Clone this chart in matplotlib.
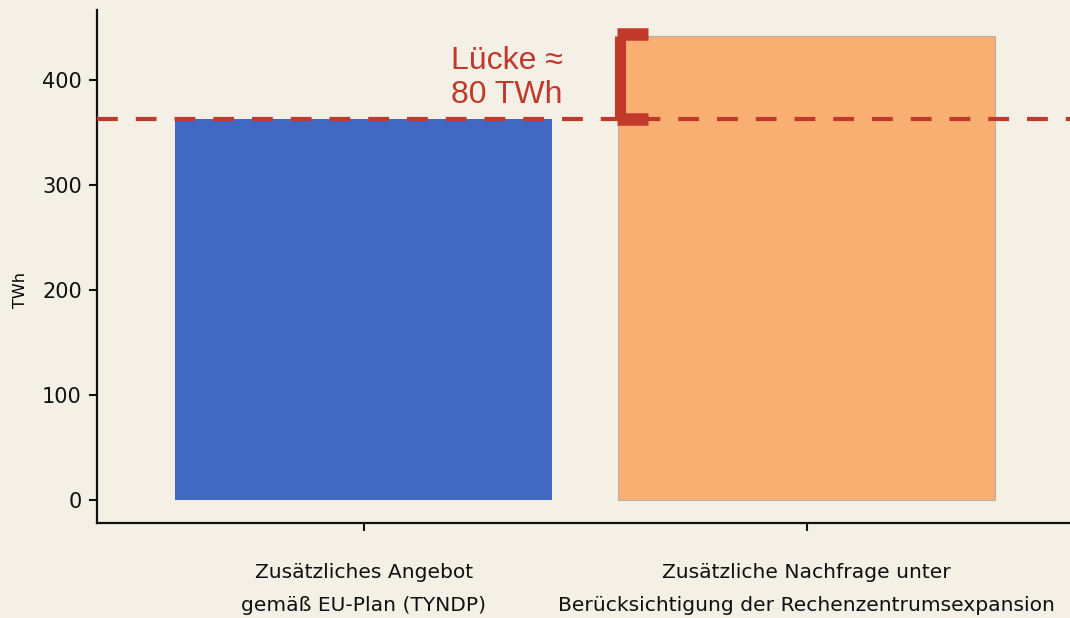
import matplotlib.pyplot as plt

# data
categories = ["Zusätzliches Angebot\ngemäß EU-Plan (TYNDP)",
              "Zusätzliche Nachfrage unter\nBerücksichtigung der Rechenzentrumsexpansion"]
values = [363, 442]
bar_colors = ["#4169c4", "#f9ae72"]
gap_label = "Lücke ≈\n80 TWh"
yticks = [0, 100, 200, 300, 400]

bg = "#f4f0e6"
red = "#c0392b"

fig = plt.figure(figsize=(10.7, 6.18), dpi=100, facecolor=bg)
ax = fig.add_axes([0.0907, 0.1537, 0.9093, 0.8303], facecolor=bg)

x = range(len(values))
ax.bar(x, values, width=0.85, color=bar_colors, zorder=2)
# thin edge on the orange bar
ax.bar([1], [values[1]], width=0.85, facecolor="none", edgecolor="#b8b0a5", linewidth=0.8, zorder=2)

# supply level line
ax.axhline(values[0], color=red, linestyle=(0, (5, 4.3)), linewidth=3, zorder=3)

# bracket showing the gap
bx = 1 - 0.425 + 0.004
ax.plot([bx, bx], [values[0], values[1]], color=red, linewidth=8, solid_capstyle="butt", zorder=4)
ax.plot([bx - 0.006, bx + 0.064], [values[1] + 2, values[1] + 2], color=red, linewidth=9, solid_capstyle="butt", zorder=4)
ax.plot([bx - 0.006, bx + 0.064], [values[0], values[0]], color=red, linewidth=9, solid_capstyle="butt", zorder=4)

ax.text(0.324, 402, gap_label, color=red, fontsize=23, family="Liberation Sans",
        ha="center", va="center", multialignment="center", linespacing=1.2)

ax.set_xlim(-0.602, 1.595)
ax.set_ylim(-21.9, 466.7)
ax.set_yticks(yticks)
ax.set_xticks(list(x))
ax.set_xticklabels(categories, fontsize=14.6, linespacing=1.9)
ax.set_ylabel("TWh", fontsize=11.5)
ax.yaxis.set_label_coords(-0.071, 0.454)

for s in ["top", "right"]:
    ax.spines[s].set_visible(False)
for s in ["left", "bottom"]:
    ax.spines[s].set_linewidth(1.6)
    ax.spines[s].set_color("#111111")
ax.tick_params(axis="y", labelsize=15, length=6, width=1.5, pad=5, colors="#111111")
ax.tick_params(axis="x", length=6, width=1.5, pad=23, colors="#111111")

fig.savefig("out.png", dpi=100, facecolor=bg)
